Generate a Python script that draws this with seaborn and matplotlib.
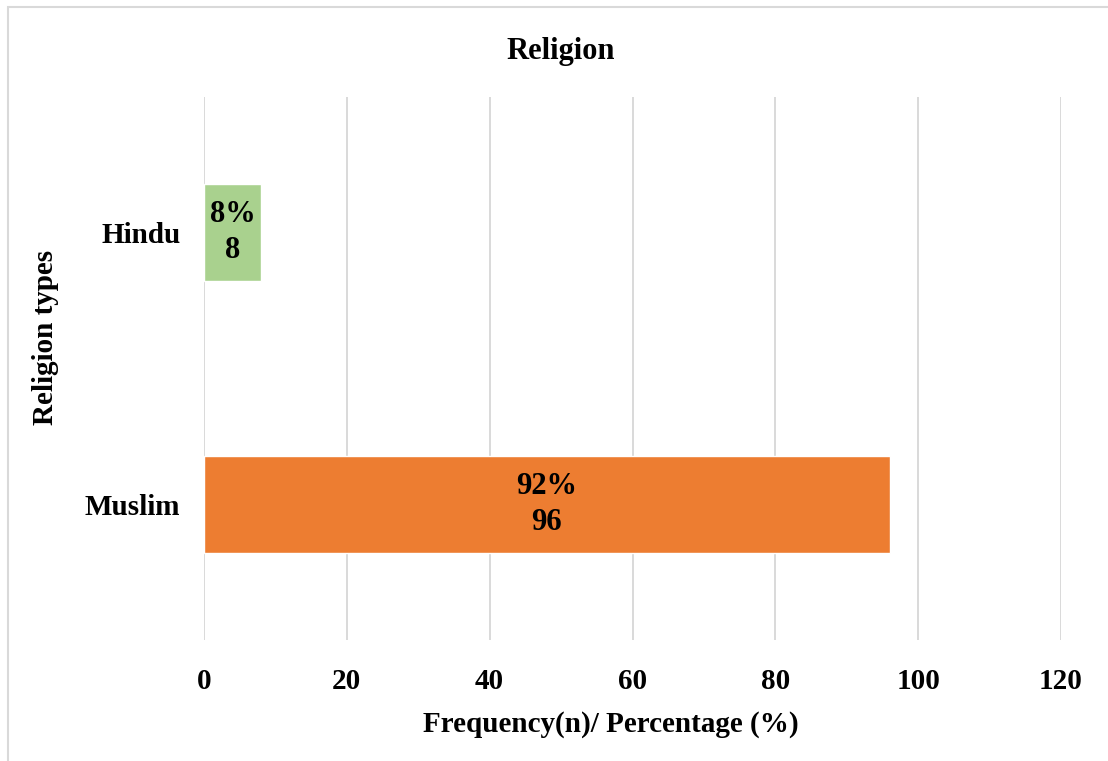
import matplotlib
matplotlib.use("Agg")
import matplotlib.pyplot as plt
from matplotlib.patches import Rectangle
import seaborn as sns
import pandas as pd

categories = ["Hindu", "Muslim"]
counts = [8, 96]
percent_labels = ["8%", "92%"]
bar_colors = ["#A9D18E", "#ED7D31"]
x_ticks = [0, 20, 40, 60, 80, 100, 120]

sns.set_theme(style="white")
plt.rcParams["font.family"] = ["Liberation Serif", "DejaVu Serif"]
plt.rcParams["font.weight"] = "bold"
plt.rcParams["text.color"] = "black"
plt.rcParams["xtick.color"] = "black"
plt.rcParams["ytick.color"] = "black"
plt.rcParams["axes.labelcolor"] = "black"

df = pd.DataFrame({"religion": categories, "n": counts})

fig = plt.figure(figsize=(11.08, 7.61), dpi=100)
ax = fig.add_axes([204 / 1108, 1 - 640 / 761, (1061 - 204) / 1108, (640 - 97) / 761])

sns.barplot(data=df, x="n", y="religion", hue="religion", order=categories,
            palette=bar_colors, orient="h", width=0.357, legend=False,
            saturation=1, ax=ax, zorder=3)

ax.set_xlim(0, 120)
ax.set_xticks(x_ticks)
ax.set_xticklabels([str(t) for t in x_ticks])
ax.grid(axis="x", color="#d9d9d9", linewidth=1.4, zorder=0)
ax.grid(axis="y", visible=False)
for s in ax.spines.values():
    s.set_visible(False)
ax.tick_params(axis="both", length=0, labelsize=21)
ax.tick_params(axis="x", pad=20)
ax.tick_params(axis="y", pad=17)
for lbl in ax.get_xticklabels() + ax.get_yticklabels():
    lbl.set_fontweight("bold")
    lbl.set_color("black")
ax.set_xlabel("")
ax.set_ylabel("")

# value labels centred in each bar: percentage over count
for i, (c, p) in enumerate(zip(counts, percent_labels)):
    ax.text(c / 2, i, f"{p}\n{c}", ha="center", va="center", fontsize=22,
            fontweight="bold", color="black", linespacing=1.3, zorder=4)

fig.text(561 / 1108, 1 - 51 / 761, "Religion", ha="center", va="center",
         fontsize=22, fontweight="bold", color="black")
fig.text(611 / 1108, 1 - 724 / 761, "Frequency(n)/ Percentage (%)", ha="center",
         va="center", fontsize=21, fontweight="bold", color="black")
fig.text(46 / 1108, 1 - 337 / 761, "Religion types", ha="center", va="center",
         rotation=90, fontsize=21, fontweight="bold", color="black")

# light chart-area border
fig.patches.append(Rectangle((8 / 1108, -0.05), 1.2, 1 - 7 / 761 + 0.05,
                             transform=fig.transFigure, fill=False,
                             edgecolor="#d9d9d9", linewidth=1.5))

fig.savefig("out.png", dpi=100)
